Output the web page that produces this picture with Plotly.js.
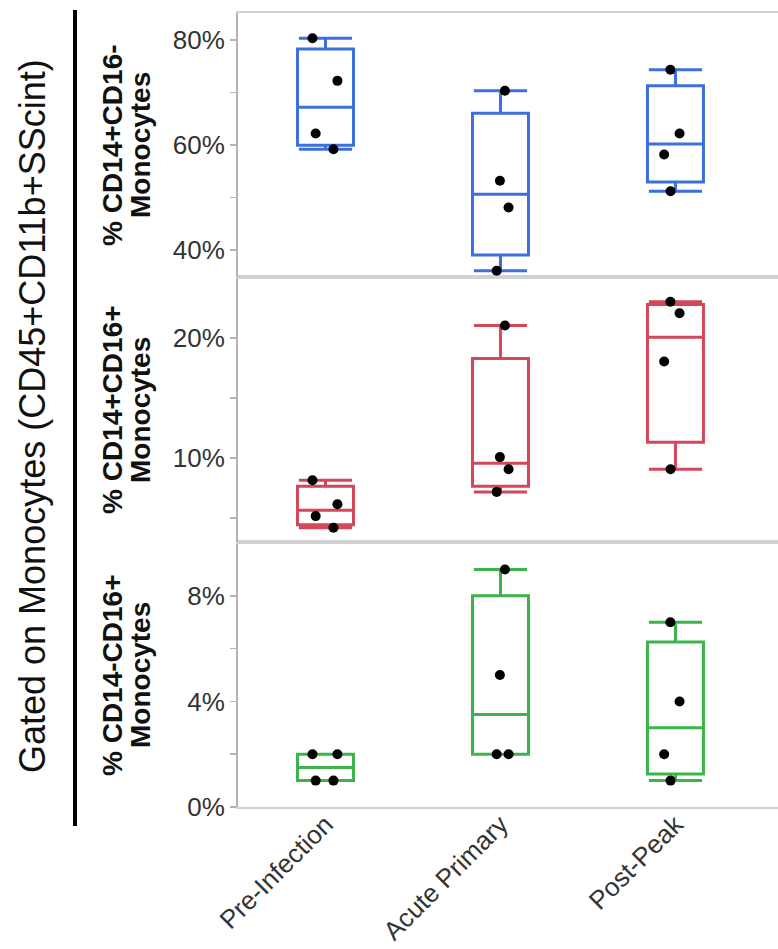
<!DOCTYPE html>
<html>
<head>
<meta charset="utf-8">
<script src="https://cdn.plot.ly/plotly-3.0.1.min.js"></script>
<style>html,body{margin:0;padding:0;background:#fff;}#chart{width:778px;height:949px;}</style>
</head>
<body>
<div id="chart"></div>
<script>
// ---- data (percent of gated monocytes) ----
var categories = ['Pre-Infection', 'Acute Primary', 'Post-Peak'];

// % CD14+CD16- Monocytes
var classicalPre   = [80.3, 72.2, 62.2, 59.2];
var classicalAcute = [70.3, 53.2, 48.1, 36.1];
var classicalPost  = [74.3, 62.2, 58.2, 51.2];

// % CD14+CD16+ Monocytes
var intermediatePre   = [8.15, 6.15, 5.16, 4.19];
var intermediateAcute = [21.05, 10.08, 9.06, 7.18];
var intermediatePost  = [23.04, 22.08, 18.06, 9.06];

// % CD14-CD16+ Monocytes
var nonclassicalPre   = [2.0, 2.0, 1.0, 1.0];
var nonclassicalAcute = [9.0, 5.0, 2.0, 2.0];
var nonclassicalPost  = [7.0, 4.0, 2.0, 1.0];

var tick1 = [40, 50, 60, 70, 80];
var tick1Text = ['40%', '', '60%', '', '80%'];
var tick2 = [5, 10, 15, 20];
var tick2Text = ['', '10%', '', '20%'];
var tick3 = [0, 2, 4, 6, 8];
var tick3Text = ['0%', '', '4%', '', '8%'];

var panelTitles = [
  ['% CD14+CD16-', 'Monocytes'],
  ['% CD14+CD16+', 'Monocytes'],
  ['% CD14-CD16+', 'Monocytes']
];
var mainTitle = 'Gated on Monocytes (CD45+CD11b+SScint)';

// ---- helpers ----
function flatX(groups) {
  var xs = [];
  groups.forEach(function (g, i) { g.forEach(function () { xs.push(categories[i]); }); });
  return xs;
}
function flatY(groups) { return [].concat.apply([], groups); }
// quantile with the (n+1)p rule (as in the source software)
function quant(arr, p) {
  var s = arr.slice().sort(function (a, b) { return a - b; });
  var n = s.length, pos = (n + 1) * p;
  if (pos <= 1) return s[0];
  if (pos >= n) return s[n - 1];
  var lo = Math.floor(pos), f = pos - lo;
  return s[lo - 1] + f * (s[lo] - s[lo - 1]);
}

var FONT = 'Liberation Sans, Arial, sans-serif';
var colors = ['#3d6fdd', '#d4465a', '#3cb44b'];
var series = [
  [classicalPre, classicalAcute, classicalPost],
  [intermediatePre, intermediateAcute, intermediatePost],
  [nonclassicalPre, nonclassicalAcute, nonclassicalPost]
];
var axesY = ['y', 'y2', 'y3'];
var axesX = ['x3', 'x2', 'x'];

var traces = [];
series.forEach(function (groups, k) {
  traces.push({
    type: 'box',
    x: categories,
    q1: groups.map(function (g) { return quant(g, 0.25); }),
    median: groups.map(function (g) { return quant(g, 0.5); }),
    q3: groups.map(function (g) { return quant(g, 0.75); }),
    lowerfence: groups.map(function (g) { return Math.min.apply(null, g); }),
    upperfence: groups.map(function (g) { return Math.max.apply(null, g); }),
    xaxis: axesX[k], yaxis: axesY[k],
    boxpoints: false,
    width: 0.32, whiskerwidth: 0.95,
    fillcolor: 'rgba(255,255,255,0)',
    line: {color: colors[k], width: 3},
    hoverinfo: 'skip', showlegend: false
  });
});
series.forEach(function (groups, k) {
  traces.push({
    type: 'box',
    x: flatX(groups), y: flatY(groups),
    xaxis: axesX[k], yaxis: axesY[k],
    boxpoints: 'all', jitter: 0.55, pointpos: 0,
    width: 0.32,
    fillcolor: 'rgba(0,0,0,0)',
    line: {color: 'rgba(0,0,0,0)', width: 0},
    marker: {color: '#000', size: 10},
    hoverinfo: 'skip', showlegend: false
  });
});

var plotTop = 13, plotBottom = 807, H = plotBottom - plotTop;
function py(pix) { return (plotBottom - pix) / H; }
function px(pix) { return (pix - 238) / 540; }

var lineCol = '#d2d2d2';
function yax(domain, range, tv, tt) {
  return {
    domain: domain, range: range, tickvals: tv, ticktext: tt,
    ticks: 'outside', ticklen: 6, tickwidth: 1.5, tickcolor: '#b4b4b4',
    showline: true, linecolor: '#b4b4b4', linewidth: 2,
    showgrid: false, zeroline: false, fixedrange: true,
    tickfont: {family: FONT, size: 26, color: '#333'}
  };
}
function xax(anchor, showLabels) {
  return {
    anchor: anchor, domain: [0, 1], type: 'category',
    categoryorder: 'array', categoryarray: categories,
    range: [-0.5, 2.586], showline: true, mirror: true,
    linecolor: lineCol, linewidth: 2, ticks: '', showgrid: false,
    zeroline: false, showticklabels: showLabels, tickangle: -45,
    ticklabelstandoff: -10,
    tickfont: {family: FONT, size: 26, color: '#333'}, fixedrange: true
  };
}

var layout = {
  width: 778, height: 949,
  margin: {l: 238, r: 0, t: plotTop, b: 949 - plotBottom, pad: 0},
  paper_bgcolor: '#fff', plot_bgcolor: '#fff',
  boxmode: 'overlay',
  xaxis: xax('y3', true),
  xaxis2: Object.assign(xax('y2', false), {matches: 'x'}),
  xaxis3: Object.assign(xax('y', false), {matches: 'x'}),
  yaxis: yax([py(277), 1], [34.9, 85.1], tick1, tick1Text),
  yaxis2: yax([py(542), py(277)], [3.0, 25.1], tick2, tick2Text),
  yaxis3: yax([0, py(542)], [0, 10.04], tick3, tick3Text),
  shapes: [{
    type: 'line', xref: 'paper', yref: 'paper',
    x0: px(75), x1: px(75), y0: py(826), y1: py(10),
    line: {color: '#000', width: 4}
  }],
  annotations: []
};

layout.annotations.push({
  text: mainTitle, xref: 'paper', yref: 'paper',
  x: px(32), y: py(416), xanchor: 'center', yanchor: 'middle',
  textangle: -90, showarrow: false,
  font: {family: FONT, size: 36, color: '#111'}
});

var centers = [145, 410, 675];
panelTitles.forEach(function (lines, k) {
  [112, 140].forEach(function (cx, j) {
    layout.annotations.push({
      text: '<b>' + lines[j] + '</b>', xref: 'paper', yref: 'paper',
      x: px(cx), y: py(centers[k]), xanchor: 'center', yanchor: 'middle',
      textangle: -90, showarrow: false,
      font: {family: FONT, size: 28, color: '#111'}
    });
  });
});

Plotly.newPlot('chart', traces, layout, {staticPlot: true, displayModeBar: false});
</script>
</body>
</html>
